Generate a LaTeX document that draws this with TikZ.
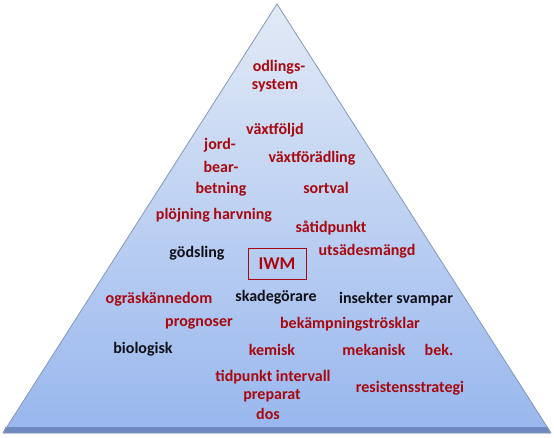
\documentclass[tikz,border=0pt]{standalone}
\usepackage{fontspec}
\setmainfont{Carlito}
\definecolor{tred}{HTML}{A8080E}
\definecolor{tblk}{HTML}{101018}
\definecolor{ttop}{HTML}{E2EAF6}
\definecolor{tbot}{HTML}{98B7EE}
\definecolor{tedge}{HTML}{8497BA}
\definecolor{tbase}{HTML}{7088C0}
\tikzset{
  lab/.style={font=\fontsize{16}{17}\selectfont\bfseries, text=tred, inner sep=0pt, align=center},
  labk/.style={lab, text=tblk},
}
\begin{document}
\begin{tikzpicture}[x=1pt,y=-1pt]
\useasboundingbox (0,0) rectangle (554,437);
\coordinate (apex) at (277,4);
\coordinate (bl) at (3,433);
\coordinate (br) at (551,433);
\shade[top color=ttop, bottom color=tbot] (apex) -- (br) -- (bl) -- cycle;
\fill[tbase] (5.5,427) -- (547.5,427) -- (br) -- (bl) -- cycle;
\draw[tedge, line width=0.8pt, line join=round] (apex) -- (br) -- (bl) -- cycle;
\node[lab] (odl) at (279,67) {odlings-};
\node[lab] (sys) at (275,86) {system};
\node[lab] (vf) at (275,130) {växtföljd};
\node[lab] (jord) at (220,145) {jord-};
\node[lab] (bear) at (221,167) {bear-};
\node[lab] (betn) at (221,189) {betning};
\node[lab] (vfor) at (312,158) {växtförädling};
\node[lab] (sort) at (326,188) {sortval};
\node[lab] (plo) at (214,215) {plöjning harvning};
\node[lab] (sat) at (331,228) {såtidpunkt};
\node[labk] (gods) at (197,253) {gödsling};
\node[lab, draw=tred, line width=0.8pt, minimum width=58pt, minimum height=31pt, font=\fontsize{18}{19}\selectfont\bfseries] (iwm) at (277,264) {IWM};
\node[lab] (uts) at (367,251) {utsädesmängd};
\node[lab] (ogr) at (159,299) {ogräskännedom};
\node[labk] (skad) at (276,297) {skadegörare};
\node[labk] (ins) at (396,299) {insekter svampar};
\node[lab] (prog) at (199,324) {prognoser};
\node[lab] (bekt) at (350,324) {bekämpningströsklar};
\node[labk] (bio) at (143,349) {biologisk};
\node[lab] (kem) at (272,350) {kemisk};
\node[lab] (mek) at (374,350) {mekanisk};
\node[lab] (bek) at (439,350) {bek.};
\node[lab] (tid) at (273,377) {tidpunkt intervall};
\node[lab] (prep) at (272,396) {preparat};
\node[lab] (dos) at (268,414) {dos};
\node[lab] (res) at (410,388) {resistensstrategi};
\end{tikzpicture}
\end{document}
